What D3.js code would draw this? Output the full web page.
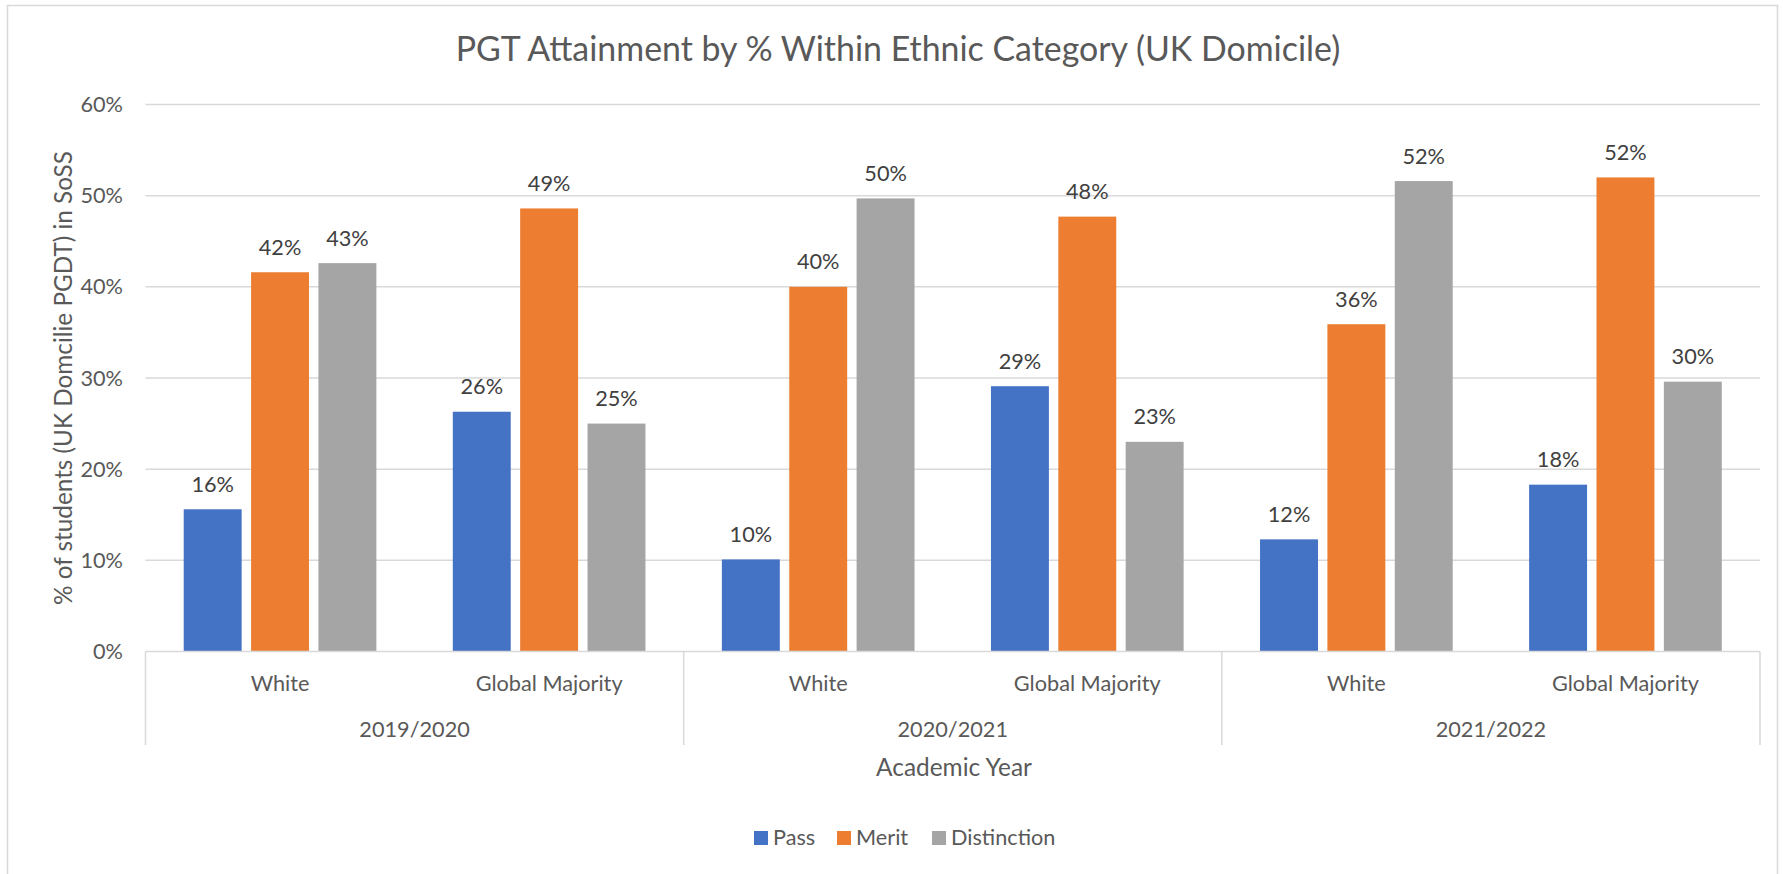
<!DOCTYPE html>
<html>
<head>
<meta charset="utf-8">
<script src="https://cdn.jsdelivr.net/npm/d3@7"></script>
<style>
  body { margin: 0; background: #fff; }
  svg { display: block; font-family: Lato, "Liberation Sans", sans-serif; }
</style>
</head>
<body>
<svg id="chart" width="1783" height="874"></svg>
<script>
// PGT attainment grouped bars, two-level category axis
const years = ["2019/2020", "2020/2021", "2021/2022"];
const groups = ["White", "Global Majority"];
const series = ["Pass", "Merit", "Distinction"];
const colors = ["#4472C4", "#ED7D31", "#A5A5A5"];

// one value per year x group, in order
const pass = [0.156, 0.263, 0.101, 0.291, 0.123, 0.183];
const merit = [0.416, 0.486, 0.400, 0.477, 0.359, 0.520];
const distinction = [0.426, 0.250, 0.497, 0.230, 0.516, 0.296];

const yTicks = [0, 0.1, 0.2, 0.3, 0.4, 0.5, 0.6];

const cats = [];
years.forEach((yr, i) => groups.forEach((g, j) => cats.push({ year: yr, group: g, idx: i * groups.length + j })));
const values = [pass, merit, distinction];

const svg = d3.select("#chart");
const plotLeft = 145.5, plotRight = 1760, plotTop = 104.5, plotBottom = 651.5;
const labelSize = "21.7px";

// chart border
svg.append("rect")
  .attr("x", 7.5).attr("y", 5.5)
  .attr("width", 1770).attr("height", 900)
  .attr("fill", "none").attr("stroke", "#d9d9d9").attr("stroke-width", 1.5);

const x0 = d3.scaleBand()
  .domain(cats.map(d => d.idx))
  .range([plotLeft, plotRight])
  .paddingInner(0.284)
  .paddingOuter(0.142);

const x1 = d3.scaleBand()
  .domain(series)
  .range([0, x0.bandwidth()])
  .paddingInner(0.14);

const y = d3.scaleLinear().domain([0, 0.6]).range([plotBottom, plotTop]);
const pct = d3.format(".0%");

// gridlines
svg.append("g")
  .selectAll("line")
  .data(yTicks.slice(1))
  .join("line")
  .attr("x1", plotLeft).attr("x2", plotRight)
  .attr("y1", d => y(d)).attr("y2", d => y(d))
  .attr("stroke", "#d9d9d9").attr("stroke-width", 1.5);

// y tick labels
svg.append("g")
  .selectAll("text")
  .data(yTicks)
  .join("text")
  .attr("x", 123)
  .attr("y", d => y(d))
  .attr("dy", "0.35em")
  .attr("text-anchor", "end")
  .attr("fill", "#595959")
  .attr("font-size", labelSize)
  .text(pct);

// bars
const cat = svg.append("g")
  .selectAll("g")
  .data(cats)
  .join("g")
  .attr("transform", d => `translate(${x0(d.idx)},0)`);

cat.selectAll("rect")
  .data(d => series.map((s, k) => ({ s, k, v: values[k][d.idx] })))
  .join("rect")
  .attr("x", d => x1(d.s))
  .attr("y", d => y(d.v))
  .attr("width", x1.bandwidth())
  .attr("height", d => y(0) - y(d.v))
  .attr("fill", d => colors[d.k]);

// data labels
cat.selectAll("text")
  .data(d => series.map((s, k) => ({ s, k, v: values[k][d.idx] })))
  .join("text")
  .attr("x", d => x1(d.s) + x1.bandwidth() / 2)
  .attr("y", d => y(d.v) - 17.5)
  .attr("text-anchor", "middle")
  .attr("fill", "#404040")
  .attr("font-size", labelSize)
  .text(d => pct(d.v));

// baseline
svg.append("line")
  .attr("x1", plotLeft).attr("x2", plotRight)
  .attr("y1", plotBottom).attr("y2", plotBottom)
  .attr("stroke", "#d9d9d9").attr("stroke-width", 1.5);

// year separators
const step = x0.step();
svg.append("g")
  .selectAll("line")
  .data(d3.range(years.length + 1))
  .join("line")
  .attr("x1", i => plotLeft + i * step * groups.length)
  .attr("x2", i => plotLeft + i * step * groups.length)
  .attr("y1", plotBottom).attr("y2", 745)
  .attr("stroke", "#d9d9d9").attr("stroke-width", 1.5);

// group labels
svg.append("g")
  .selectAll("text")
  .data(cats)
  .join("text")
  .attr("x", d => x0(d.idx) + x0.bandwidth() / 2)
  .attr("y", 691)
  .attr("text-anchor", "middle")
  .attr("fill", "#595959")
  .attr("font-size", labelSize)
  .text(d => d.group);

// year labels
svg.append("g")
  .selectAll("text")
  .data(years)
  .join("text")
  .attr("x", (d, i) => plotLeft + (i + 0.5) * step * groups.length)
  .attr("y", 737)
  .attr("text-anchor", "middle")
  .attr("fill", "#595959")
  .attr("font-size", labelSize)
  .text(d => d);

// titles
svg.append("text")
  .attr("x", 898).attr("y", 61)
  .attr("text-anchor", "middle")
  .attr("fill", "#595959")
  .attr("font-size", "33.9px")
  .text("PGT Attainment by % Within Ethnic Category (UK Domicile)");

svg.append("text")
  .attr("x", 954).attr("y", 776)
  .attr("text-anchor", "middle")
  .attr("fill", "#595959")
  .attr("font-size", "24.4px")
  .text("Academic Year");

svg.append("text")
  .attr("transform", `translate(72,378) rotate(-90)`)
  .attr("text-anchor", "middle")
  .attr("fill", "#595959")
  .attr("font-size", "24.3px")
  .text("% of students (UK Domcilie PGDT) in SoSS");

// legend
const legendX = [754, 837, 932];
const legend = svg.append("g")
  .selectAll("g")
  .data(series)
  .join("g")
  .attr("transform", (d, i) => `translate(${legendX[i]},831)`);

legend.append("rect")
  .attr("width", 14).attr("height", 14)
  .attr("fill", (d, i) => colors[i]);

legend.append("text")
  .attr("x", 19).attr("y", 14)
  .attr("fill", "#595959")
  .attr("font-size", labelSize)
  .text(d => d);
</script>
</body>
</html>
